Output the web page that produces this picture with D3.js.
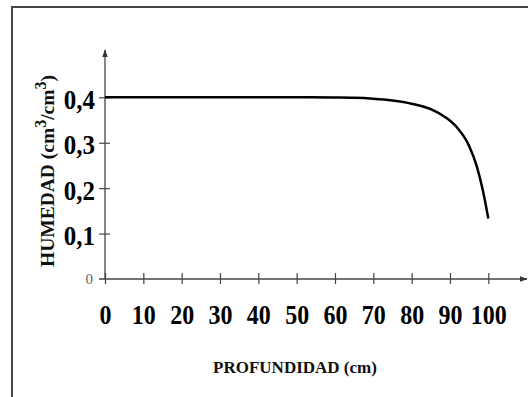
<!DOCTYPE html>
<html>
<head>
<meta charset="utf-8">
<script src="https://cdn.jsdelivr.net/npm/d3@7"></script>
<style>
  body { margin: 0; background: #fff; }
  svg { display: block; font-family: "Liberation Serif", "Times New Roman", serif; }
</style>
</head>
<body>
<svg id="chart" width="528" height="397"></svg>
<script>
// depth (cm) vs humidity (cm3/cm3)
var depth    = [0, 20, 40, 50, 60, 65, 70, 75, 80, 85, 89, 92, 95, 97, 98.5, 100];
var humidity = [0.4, 0.4, 0.4, 0.4, 0.3995, 0.399, 0.397, 0.393, 0.386, 0.374, 0.355, 0.332, 0.293, 0.248, 0.198, 0.133];
var xTicks = [0, 10, 20, 30, 40, 50, 60, 70, 80, 90, 100];
var yTicks = [0.1, 0.2, 0.3, 0.4];
var yTickLabels = ["0,1", "0,2", "0,3", "0,4"];

var width = 528, height = 397;
var x0 = 105, y0 = 279;

var x = d3.scaleLinear().domain([0, 100]).range([x0, 488.3]);
var y = d3.scaleLinear().domain([0, 0.4]).range([y0, 97.3]);

var svg = d3.select("#chart");

// frame (only top and left edges are visible)
svg.append("path")
    .attr("d", "M12,400 L12,7 L530,7")
    .attr("fill", "none")
    .attr("stroke", "#444")
    .attr("stroke-width", 2);

var defs = svg.append("defs");
defs.append("marker")
    .attr("id", "arrow")
    .attr("viewBox", "0 0 10 10")
    .attr("refX", 9).attr("refY", 5)
    .attr("markerWidth", 6).attr("markerHeight", 6)
    .attr("orient", "auto")
    .append("path")
    .attr("d", "M0,1.5 L10,5 L0,8.5 Z")
    .attr("fill", "#333");

// x axis
var xAxis = svg.append("g")
    .attr("transform", "translate(0," + y0 + ")")
    .call(d3.axisBottom(x).tickValues(xTicks).tickSize(0).tickFormat(d3.format("d")));
xAxis.select(".domain").remove();
xAxis.selectAll(".tick line")
    .attr("y1", -6).attr("y2", 5)
    .attr("stroke", "#444").attr("stroke-width", 1.2);
xAxis.selectAll(".tick text")
    .attr("y", 0).attr("dy", 0)
    .attr("transform", "translate(0,45) scale(1,1.12)")
    .attr("font-family", "Liberation Serif")
    .attr("font-size", 24)
    .attr("font-weight", "bold")
    .attr("fill", "#000");

svg.append("line")
    .attr("x1", x0 - 6).attr("x2", 527)
    .attr("y1", y0).attr("y2", y0)
    .attr("stroke", "#444").attr("stroke-width", 1.3)
    .attr("marker-end", "url(#arrow)");

// y axis
var yAxis = svg.append("g")
    .attr("transform", "translate(" + x0 + ",0)")
    .call(d3.axisLeft(y).tickValues(yTicks).tickSize(0).tickFormat(function(d, i) { return yTickLabels[i]; }));
yAxis.select(".domain").remove();
yAxis.selectAll(".tick line")
    .attr("x1", -6).attr("x2", 5)
    .attr("stroke", "#444").attr("stroke-width", 1.2);
yAxis.selectAll(".tick text")
    .attr("x", 0).attr("dy", 0)
    .attr("transform", "translate(-10,11) scale(1,1.08)")
    .attr("font-family", "Liberation Serif")
    .attr("font-size", 25)
    .attr("font-weight", "bold")
    .attr("fill", "#000");

svg.append("line")
    .attr("x1", x0).attr("x2", x0)
    .attr("y1", y0).attr("y2", 50)
    .attr("stroke", "#444").attr("stroke-width", 1.3)
    .attr("marker-end", "url(#arrow)");

// small zero label
svg.append("text")
    .attr("x", 93).attr("y", y(0) + 5)
    .attr("text-anchor", "end")
    .attr("font-size", 15)
    .attr("fill", "#666")
    .text("0");

// curve
var line = d3.line()
    .x(function(d, i) { return x(depth[i]); })
    .y(function(d, i) { return y(humidity[i]); })
    .curve(d3.curveMonotoneX);

svg.append("path")
    .datum(depth)
    .attr("d", line)
    .attr("fill", "none")
    .attr("stroke", "#000")
    .attr("stroke-width", 2.5);

// axis titles
svg.append("text")
    .attr("x", 295).attr("y", 373)
    .attr("text-anchor", "middle")
    .attr("font-size", 17)
    .attr("font-weight", "bold")
    .attr("fill", "#111")
    .text("PROFUNDIDAD (cm)");

var yt = svg.append("text")
    .attr("transform", "translate(54,171) rotate(-90)")
    .attr("text-anchor", "middle")
    .attr("font-size", 19.5)
    .attr("font-weight", "bold")
    .attr("fill", "#111");
yt.append("tspan").text("HUMEDAD (cm");
yt.append("tspan").attr("dy", -8).attr("font-size", 16).text("3");
yt.append("tspan").attr("dy", 8).text("/cm");
yt.append("tspan").attr("dy", -8).attr("font-size", 16).text("3");
yt.append("tspan").attr("dy", 8).text(")");
</script>
</body>
</html>
